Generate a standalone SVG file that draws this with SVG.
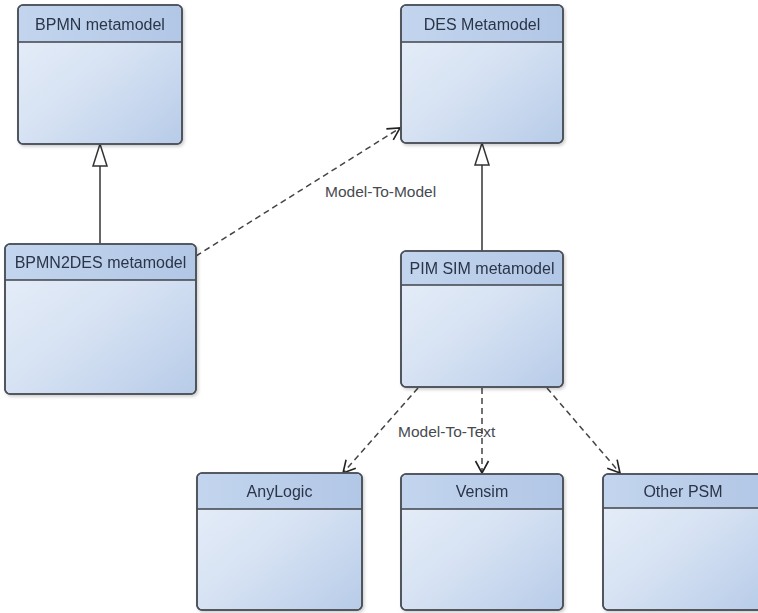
<svg xmlns="http://www.w3.org/2000/svg" width="758" height="613" viewBox="0 0 758 613">
<style>
.box{fill:url(#body);stroke:#4b5058;stroke-width:1.6}
.hdr{fill:url(#head);stroke:none}
.sep{stroke:#3e434a;stroke-width:1.6}
.name{font-family:"Liberation Sans",Arial,sans-serif;font-size:16px;fill:#2a3447;text-anchor:middle}
.lbl{font-family:"Liberation Sans",Arial,sans-serif;font-size:15.5px;fill:#474a50}
.gen{stroke:#333;stroke-width:1.5;fill:none}
.dep{stroke:#444;stroke-width:1.5;fill:none;stroke-dasharray:6,4}
</style>
<defs>
<linearGradient id="body" x1="0" y1="0" x2="1" y2="1">
<stop offset="0" stop-color="#e8eff9"/>
<stop offset="0.5" stop-color="#d6e2f3"/>
<stop offset="1" stop-color="#b7cbe8"/>
</linearGradient>
<linearGradient id="head" x1="0" y1="0" x2="1" y2="0">
<stop offset="0" stop-color="#c3d5ee"/>
<stop offset="1" stop-color="#b2c7e6"/>
</linearGradient>
<filter id="sh" x="-10%" y="-10%" width="120%" height="120%">
<feDropShadow dx="1.5" dy="2" stdDeviation="1.5" flood-color="#000" flood-opacity="0.18"/>
</filter>
<marker id="tri" markerWidth="16" markerHeight="24" refX="8" refY="0" orient="auto-start-reverse" markerUnits="userSpaceOnUse" viewBox="0 0 16 24">
<path d="M8,0 L15,22 L1,22 Z" fill="#fff" stroke="#333" stroke-width="1.5"/>
</marker>
<marker id="open" markerWidth="16" markerHeight="16" refX="14" refY="8" orient="auto" markerUnits="userSpaceOnUse" viewBox="0 0 16 16">
<path d="M2,1.5 L14,8 L2,14.5" fill="none" stroke="#222" stroke-width="1.6"/>
</marker>
</defs>
<rect width="758" height="613" fill="#fff"/>

<g id="connectors">
<line class="gen" x1="100" y1="244" x2="100" y2="166"/>
<path d="M100,144 L107,166 L93,166 Z" fill="#fff" stroke="#333" stroke-width="1.5"/>
<line class="gen" x1="482" y1="251" x2="482" y2="165"/>
<path d="M482,143 L489,165 L475,165 Z" fill="#fff" stroke="#333" stroke-width="1.5"/>
<line class="dep" x1="196" y1="256" x2="400" y2="128" marker-end="url(#open)"/>
<line class="dep" x1="418" y1="388" x2="343" y2="473" marker-end="url(#open)"/>
<line class="dep" x1="482" y1="388" x2="482" y2="473" marker-end="url(#open)"/>
<line class="dep" x1="547" y1="388" x2="620" y2="473" marker-end="url(#open)"/>
<text class="lbl" x="325" y="197">Model-To-Model</text>
<text class="lbl" x="398" y="437">Model-To-Text</text>
</g>

<g id="bpmn" filter="url(#sh)">
<rect class="box" x="18" y="5" width="164" height="139" rx="5"/>
<path class="hdr" d="M19,42 V10 a4,4 0 0 1 4,-4 H177 a4,4 0 0 1 4,4 V42 Z"/>
<line class="sep" x1="18" y1="42" x2="182" y2="42"/>
<rect x="18" y="5" width="164" height="139" rx="5" fill="none" stroke="#4b5058" stroke-width="1.6"/>
<text class="name" x="100" y="30">BPMN metamodel</text>
</g>

<g id="des" filter="url(#sh)">
<rect class="box" x="401" y="5" width="162" height="138" rx="5"/>
<path class="hdr" d="M402,42 V10 a4,4 0 0 1 4,-4 H558 a4,4 0 0 1 4,4 V42 Z"/>
<line class="sep" x1="401" y1="42" x2="563" y2="42"/>
<rect x="401" y="5" width="162" height="138" rx="5" fill="none" stroke="#4b5058" stroke-width="1.6"/>
<text class="name" x="482" y="30">DES Metamodel</text>
</g>

<g id="bpmn2des" filter="url(#sh)">
<rect class="box" x="5" y="244" width="191" height="150" rx="5"/>
<path class="hdr" d="M6,280 V249 a4,4 0 0 1 4,-4 H191 a4,4 0 0 1 4,4 V280 Z"/>
<line class="sep" x1="5" y1="280" x2="196" y2="280"/>
<rect x="5" y="244" width="191" height="150" rx="5" fill="none" stroke="#4b5058" stroke-width="1.6"/>
<text class="name" x="100.5" y="268">BPMN2DES metamodel</text>
</g>

<g id="pimsim" filter="url(#sh)">
<rect class="box" x="401" y="251" width="162" height="136" rx="5"/>
<path class="hdr" d="M402,285 V256 a4,4 0 0 1 4,-4 H558 a4,4 0 0 1 4,4 V285 Z"/>
<line class="sep" x1="401" y1="285" x2="563" y2="285"/>
<rect x="401" y="251" width="162" height="136" rx="5" fill="none" stroke="#4b5058" stroke-width="1.6"/>
<text class="name" x="482" y="274">PIM SIM metamodel</text>
</g>

<g id="anylogic" filter="url(#sh)">
<rect class="box" x="197" y="473" width="165" height="137" rx="5"/>
<path class="hdr" d="M198,509 V478 a4,4 0 0 1 4,-4 H357 a4,4 0 0 1 4,4 V509 Z"/>
<line class="sep" x1="197" y1="509" x2="362" y2="509"/>
<rect x="197" y="473" width="165" height="137" rx="5" fill="none" stroke="#4b5058" stroke-width="1.6"/>
<text class="name" x="279.5" y="497">AnyLogic</text>
</g>

<g id="vensim" filter="url(#sh)">
<rect class="box" x="401" y="474" width="162" height="136" rx="5"/>
<path class="hdr" d="M402,509 V479 a4,4 0 0 1 4,-4 H558 a4,4 0 0 1 4,4 V509 Z"/>
<line class="sep" x1="401" y1="509" x2="563" y2="509"/>
<rect x="401" y="474" width="162" height="136" rx="5" fill="none" stroke="#4b5058" stroke-width="1.6"/>
<text class="name" x="482" y="497">Vensim</text>
</g>

<g id="otherpsm" filter="url(#sh)">
<rect class="box" x="603" y="474" width="162" height="136" rx="5"/>
<path class="hdr" d="M604,508 V479 a4,4 0 0 1 4,-4 H760 a4,4 0 0 1 4,4 V508 Z"/>
<line class="sep" x1="603" y1="508" x2="765" y2="508"/>
<rect x="603" y="474" width="162" height="136" rx="5" fill="none" stroke="#4b5058" stroke-width="1.6"/>
<text class="name" x="683" y="497">Other PSM</text>
</g>
</svg>
